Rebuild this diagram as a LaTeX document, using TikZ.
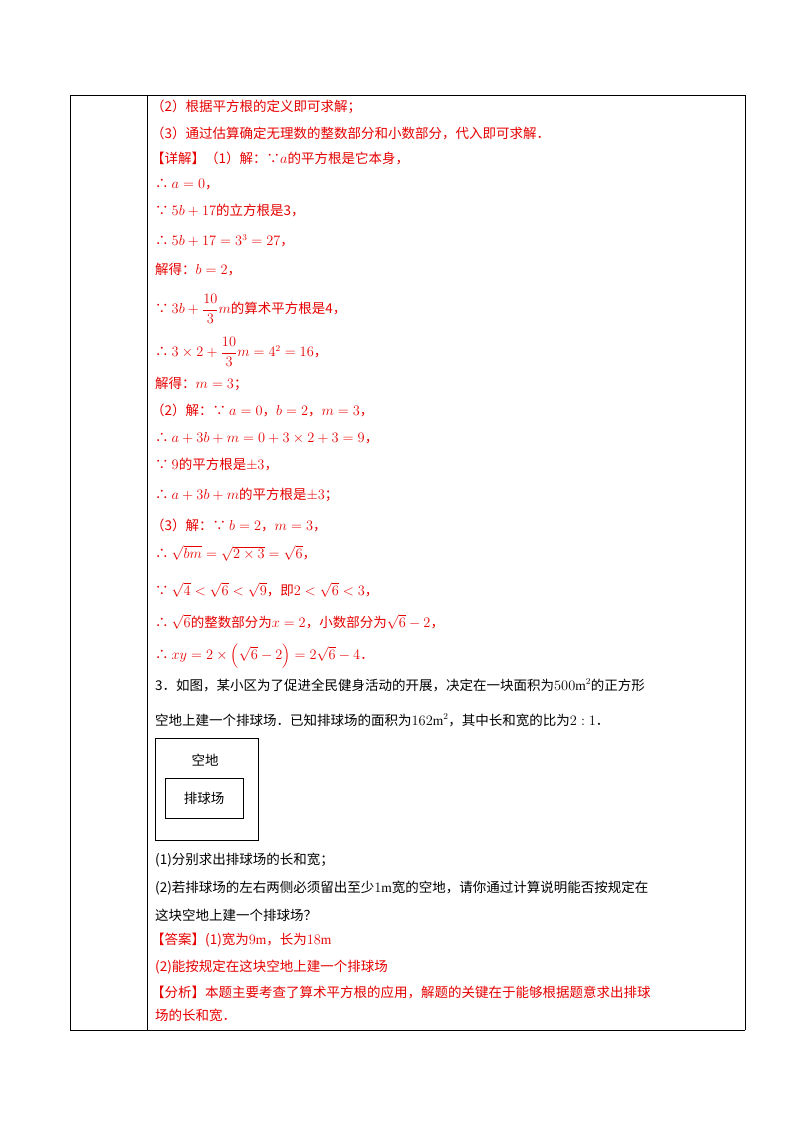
\documentclass[tikz,border=0pt]{standalone}
\usepackage{fontspec}
\usepackage{amsmath,amssymb}
\setmainfont{Liberation Serif}
\newfontfamily\cjk{Noto Sans CJK SC}
\definecolor{rd}{RGB}{230,0,0}
\begin{document}
\begin{tikzpicture}[x=1pt,y=-1pt,
  t/.style={anchor=west,inner sep=0pt,font=\cjk\fontsize{13.5}{16}\selectfont},
  r/.style={t,text=rd}]
\useasboundingbox (0,0) rectangle (800,1132);
\draw[line width=0.8pt] (70,95) -- (745,95) (70,1030) -- (745,1030)
  (70,95) -- (70,1030) (147,95) -- (147,1030) (745,95) -- (745,1030);
\node[r] (l1) at (151,107) {（2）根据平方根的定义即可求解；};
\node[r] (l2) at (151,133) {（3）通过估算确定无理数的整数部分和小数部分，代入即可求解．};
\node[r] (l3) at (151,158) {【详解】（1）解：∵$a$的平方根是它本身，};
\node[r] (l4) at (155,185) {∴ $a=0$，};
\node[r] (l5) at (155,211) {∵ $5b+17$的立方根是3，};
\node[r] (l6) at (155,241) {∴ $5b+17=3^3=27$，};
\node[r] (l7) at (155,270) {解得：$b=2$，};
\node[r] (l8) at (155,309) {∵ $3b+\dfrac{10}{3}m$的算术平方根是4，};
\node[r] (l9) at (155,352) {∴ $3\times2+\dfrac{10}{3}m=4^2=16$，};
\node[r] (l10) at (155,384) {解得：$m=3$；};
\node[r] (l11) at (151,410) {（2）解：∵ $a=0$，$b=2$，$m=3$，};
\node[r] (l12) at (155,438) {∴ $a+3b+m=0+3\times2+3=9$，};
\node[r] (l13) at (155,465) {∵ $9$的平方根是$\pm3$，};
\node[r] (l14) at (155,495) {∴ $a+3b+m$的平方根是$\pm3$；};
\node[r] (l15) at (151,525) {（3）解：∵ $b=2$，$m=3$，};
\node[r] (l16) at (155,553) {∴ $\sqrt{bm}=\sqrt{2\times3}=\sqrt6$，};
\node[r] (l17) at (155,590) {∵ $\sqrt4<\sqrt6<\sqrt9$，即$2<\sqrt6<3$，};
\node[r] (l18) at (155,622) {∴ $\sqrt6$的整数部分为$x=2$，小数部分为$\sqrt6-2$，};
\node[r] (l19) at (155,656) {∴ $xy=2\times\left(\sqrt6-2\right)=2\sqrt6-4$．};
\node[t] (q1) at (155,685) {3．如图，某小区为了促进全民健身活动的开展，决定在一块面积为$500\mathrm{m}^2$的正方形};
\node[t] (q2) at (155,720) {空地上建一个排球场．已知排球场的面积为$162\mathrm{m}^2$，其中长和宽的比为$2:1$．};
\draw[line width=0.6pt] (155,738) rectangle (258,840);
\node[t,anchor=center] (kd) at (205,760) {空地};
\node[t,anchor=center,draw,line width=0.6pt,minimum width=78pt,minimum height=40pt] (pq) at (204,798) {排球场};
\node[t] (q3) at (155,860) {(1)分别求出排球场的长和宽；};
\node[t] (q4) at (155,888) {(2)若排球场的左右两侧必须留出至少$1\mathrm{m}$宽的空地，请你通过计算说明能否按规定在};
\node[t] (q5) at (155,915) {这块空地上建一个排球场？};
\node[r] (a1) at (151,940) {【答案】(1)宽为$9\mathrm{m}$，长为$18\mathrm{m}$};
\node[r] (a2) at (155,967) {(2)能按规定在这块空地上建一个排球场};
\node[r] (a3) at (151,992) {【分析】本题主要考查了算术平方根的应用，解题的关键在于能够根据题意求出排球};
\node[r] (a4) at (155,1015) {场的长和宽．};
\end{tikzpicture}
\end{document}
